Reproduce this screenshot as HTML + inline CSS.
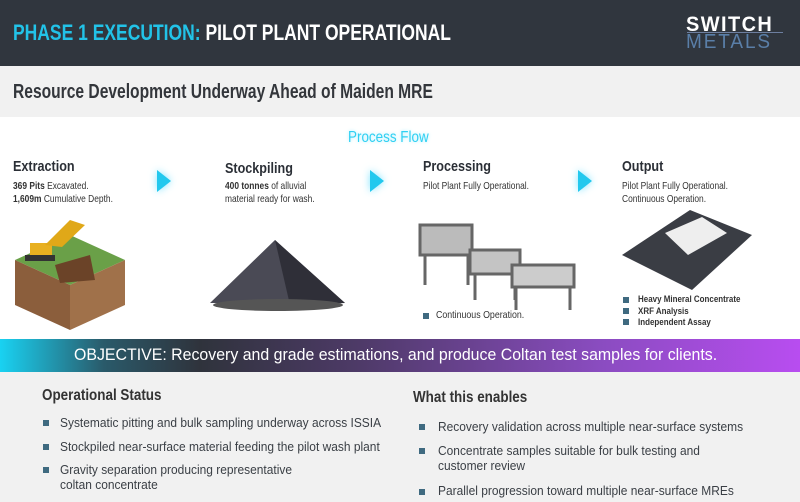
<!DOCTYPE html>
<html><head><meta charset="utf-8"><style>
*{margin:0;padding:0;box-sizing:border-box}
body{width:800px;height:502px;position:relative;overflow:hidden;background:#fff;font-family:"Liberation Sans",sans-serif}
.a{position:absolute;white-space:nowrap}
.n{display:inline-block;transform:scaleX(.84);transform-origin:0 0}
.h{font-weight:bold;color:#2b2f36}
.s{font-size:10.5px;color:#333;line-height:13px}
.s .n{transform:scaleX(.8)}
.b{position:absolute;width:6px;height:6px;background:#3f6a80}
.arr{position:absolute;width:0;height:0;border-top:11px solid transparent;border-bottom:11px solid transparent;border-left:14px solid #22c8ee;filter:drop-shadow(0 0 4px #7fe4ff)}
.li{font-size:13px;color:#3a3f45}
.li .n{transform:scaleX(.92)}
</style></head><body>
<div class="a" style="left:0;top:0;width:800px;height:66px;background:#30363e"></div>
<div class="a" style="left:13px;top:20px;font-size:22px;font-weight:bold"><span class="n" style="transform:scaleX(.795)"><span style="color:#22c3e8">PHASE 1 EXECUTION:</span> <span style="color:#fff">PILOT PLANT OPERATIONAL</span></span></div>
<div class="a" style="left:686px;top:13px;font-size:21px;color:#fff;letter-spacing:1.5px;font-weight:bold"><span class="n" style="transform:scaleX(.95)">SWITCH</span></div>
<div class="a" style="left:687px;top:32px;width:96px;height:1px;background:#6d7fa0"></div>
<div class="a" style="left:686px;top:31px;font-size:20px;color:#5a7fa8;letter-spacing:2px;font-weight:300"><span class="n" style="transform:scaleX(.95)">METALS</span></div>
<div class="a" style="left:0;top:66px;width:800px;height:51px;background:#f1f1f1"></div>
<div class="a" style="left:13px;top:81px;font-size:20px;font-weight:bold;color:#33363b"><span class="n" style="transform:scaleX(.78)">Resource Development Underway Ahead of Maiden MRE</span></div>
<div class="a" style="left:348px;top:129px;font-size:16px;color:#2fd0f2;text-shadow:0 0 4px #a8ecff"><span class="n">Process Flow</span></div>

<div class="a h" style="left:13px;top:158px;font-size:15px"><span class="n">Extraction</span></div>
<div class="a s" style="left:13px;top:180px"><span class="n"><b>369 Pits</b> Excavated.<br><b>1,609m</b> Cumulative Depth.</span></div>
<div class="a h" style="left:225px;top:160px;font-size:15px"><span class="n">Stockpiling</span></div>
<div class="a s" style="left:225px;top:180px"><span class="n"><b>400 tonnes</b> of alluvial<br>material ready for wash.</span></div>
<div class="a h" style="left:423px;top:158px;font-size:15px"><span class="n">Processing</span></div>
<div class="a s" style="left:423px;top:180px"><span class="n">Pilot Plant Fully Operational.</span></div>
<div class="a h" style="left:622px;top:158px;font-size:15px"><span class="n">Output</span></div>
<div class="a s" style="left:622px;top:180px"><span class="n">Pilot Plant Fully Operational.<br>Continuous Operation.</span></div>
<div class="arr" style="left:157px;top:170px"></div>
<div class="arr" style="left:370px;top:170px"></div>
<div class="arr" style="left:578px;top:170px"></div>

<svg class="a" style="left:0;top:205px" width="800" height="135">
<polygon points="15,55 70,30 125,55 70,80" fill="#6aa048"/>
<polygon points="15,55 70,80 70,125 15,100" fill="#8b5e3c"/>
<polygon points="70,80 125,55 125,100 70,125" fill="#a0714a"/>
<polygon points="55,60 90,50 95,75 60,78" fill="#6b4328"/>
<rect x="30" y="38" width="22" height="14" fill="#e8b020"/>
<polygon points="45,40 70,15 85,20 62,42" fill="#e0a818"/>
<rect x="25" y="50" width="30" height="6" fill="#333"/>
<polygon points="275,35 345,98 210,98" fill="#4a4a55"/>
<polygon points="275,35 345,98 290,100" fill="#2f2f38"/>
<ellipse cx="278" cy="100" rx="65" ry="6" fill="#555"/>
<g fill="none" stroke="#666" stroke-width="3">
<rect x="420" y="20" width="52" height="30" fill="#bbb"/>
<line x1="425" y1="50" x2="425" y2="80"/><line x1="468" y1="50" x2="468" y2="80"/>
<rect x="470" y="45" width="50" height="24" fill="#c4c4c4"/>
<line x1="475" y1="69" x2="475" y2="95"/><line x1="515" y1="69" x2="515" y2="95"/>
<rect x="512" y="60" width="62" height="22" fill="#ccc"/>
<line x1="516" y1="82" x2="516" y2="105"/><line x1="570" y1="82" x2="570" y2="105"/>
</g>
<polygon points="622,50 690,5 752,30 692,85" fill="#3a3d44"/>
<polygon points="665,28 702,12 727,28 688,50" fill="#eee"/>
</svg>
<div class="b" style="left:423px;top:313px"></div>
<div class="a" style="left:436px;top:309px;font-size:10.5px;color:#333"><span class="n">Continuous Operation.</span></div>
<div class="b" style="left:623px;top:297px"></div>
<div class="b" style="left:623px;top:308px"></div>
<div class="b" style="left:623px;top:319px"></div>
<div class="a" style="left:638px;top:294px;font-size:9.5px;font-weight:bold;color:#333;line-height:11.5px"><span class="n">Heavy Mineral Concentrate<br>XRF Analysis<br>Independent Assay</span></div>

<div class="a" style="left:0;top:339px;width:800px;height:33px;background:linear-gradient(90deg,#19d2f2 0%,#2a5a6a 13%,#2f333c 25%,#4e3a68 45%,#8a4cc0 75%,#b84df0 100%)"></div>
<div class="a" style="left:74px;top:345px;font-size:17px;color:#fff"><span class="n" style="transform:scaleX(.935)">OBJECTIVE: Recovery and grade estimations, and produce Coltan test samples for clients.</span></div>
<div class="a" style="left:0;top:372px;width:800px;height:130px;background:#f1f1f1"></div>
<div class="a h" style="left:42px;top:387px;font-size:16px;color:#333"><span class="n">Operational Status</span></div>
<div class="a h" style="left:413px;top:389px;font-size:16px;color:#333"><span class="n">What this enables</span></div>
<div class="b" style="left:43px;top:420px"></div>
<div class="a li" style="left:60px;top:415px"><span class="n">Systematic pitting and bulk sampling underway across ISSIA</span></div>
<div class="b" style="left:43px;top:444px"></div>
<div class="a li" style="left:60px;top:439px"><span class="n">Stockpiled near-surface material feeding the pilot wash plant</span></div>
<div class="b" style="left:43px;top:467px"></div>
<div class="a li" style="left:60px;top:462px;line-height:15px"><span class="n">Gravity separation producing representative<br>coltan concentrate</span></div>
<div class="b" style="left:419px;top:424px"></div>
<div class="a li" style="left:438px;top:419px"><span class="n">Recovery validation across multiple near-surface systems</span></div>
<div class="b" style="left:419px;top:448px"></div>
<div class="a li" style="left:438px;top:443px;line-height:15px"><span class="n">Concentrate samples suitable for bulk testing and<br>customer review</span></div>
<div class="b" style="left:419px;top:489px"></div>
<div class="a li" style="left:438px;top:483px"><span class="n">Parallel progression toward multiple near-surface MREs</span></div>
</body></html>
